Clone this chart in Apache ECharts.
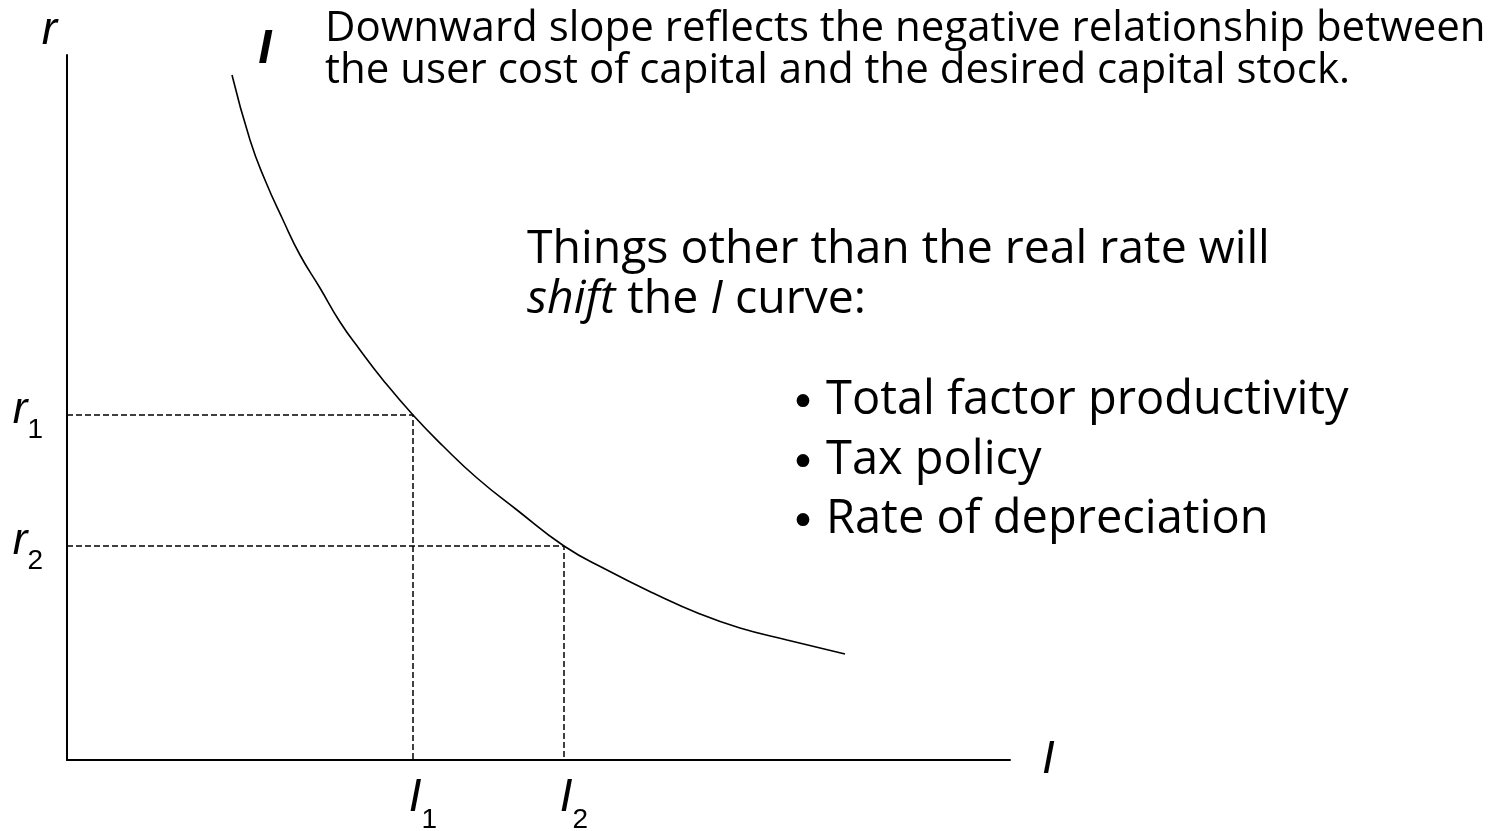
<!DOCTYPE html>
<html>
<head>
<meta charset="utf-8">
<script src="https://cdn.jsdelivr.net/npm/echarts@6/dist/echarts.min.js"></script>
<style>
html, body { margin: 0; padding: 0; background: #fff; }
#main { width: 1506px; height: 831px; }
</style>
</head>
<body>
<div id="main"></div>
<script>
// 投资曲线 I (units measured from the axes corner)
var curveX = [165, 183, 198, 216, 233, 253, 273, 293, 316, 346, 376, 410, 450, 497, 540, 586, 633, 673, 720, 778];
var curveY = [685, 620, 580, 540, 505, 472, 438, 410, 380, 345, 314, 282, 250, 214, 190, 167, 146, 132, 120, 106];

// r1 / r2 and I1 / I2
var levelX = [346, 497];
var levelY = [345, 214];
var levelSub = ['1', '2'];

var xMax = 943;
var yMax = 705;

// 说明文字
var noteLines = ['Downward slope reflects the negative relationship between', 'the user cost of capital and the desired capital stock.'];
var shiftLines = ['Things other than the real rate will', '{i|shift} the {i|I} curve:'];
var bulletItems = ['Total factor productivity', 'Tax policy', 'Rate of depreciation'];

var txtFont = '"Open Sans"';
var mathFont = '"Liberation Sans", Arial, sans-serif';

var myChart = echarts.init(document.getElementById('main'));

var curveData = [];
for (var i = 0; i < curveX.length; i++) {
    var item = { value: [curveX[i], curveY[i]] };
    if (i === 0) {
        item.label = {
            show: true,
            position: 'top',
            offset: [33, 4],
            formatter: 'I',
            fontFamily: mathFont,
            fontStyle: 'italic',
            fontWeight: 'bold',
            fontSize: 48,
            color: '#000'
        };
    }
    curveData.push(item);
}

var subRich = function (big, small, pad) {
    return {
        a: { fontFamily: mathFont, fontStyle: 'italic', fontSize: big, lineHeight: big + 8, color: '#000' },
        b: { fontFamily: mathFont, fontSize: small, padding: [pad, 0, 0, 0], color: '#000' }
    };
};

var series = [{
    name: 'I',
    type: 'line',
    data: curveData,
    smooth: 0.5,
    showSymbol: true,
    symbolSize: 0,
    lineStyle: { color: '#000', width: 1.6 },
    z: 3
}];

for (var k = 0; k < levelX.length; k++) {
    series.push({
        type: 'line',
        showSymbol: true,
        symbolSize: 0,
        lineStyle: { color: '#000', width: 1.5, type: [6, 3] },
        data: [
            {
                value: [0, levelY[k]],
                label: {
                    show: true,
                    position: 'left',
                    distance: 24,
                    offset: [0, -4],
                    formatter: '{a|r}{b|' + levelSub[k] + '}',
                    rich: subRich(44, 28, 38)
                }
            },
            { value: [levelX[k], levelY[k]] },
            {
                value: [levelX[k], 0],
                label: {
                    show: true,
                    position: 'bottom',
                    distance: 2,
                    offset: [10, 0],
                    formatter: '{a|I}{b|' + levelSub[k] + '}',
                    rich: subRich(46, 28, 44)
                }
            }
        ],
        z: 2
    });
}

var graphics = [];
for (var n = 0; n < noteLines.length; n++) {
    graphics.push({
        type: 'text', x: 325, y: 29 + n * 42,
        style: { text: noteLines[n], fontFamily: txtFont, fontSize: 42, fill: '#000', verticalAlign: 'middle' }
    });
}
for (var s = 0; s < shiftLines.length; s++) {
    graphics.push({
        type: 'text', x: 527, y: 250 + s * 50,
        style: {
            text: shiftLines[s], fontFamily: txtFont, fontSize: 46.4, fill: '#000', verticalAlign: 'middle',
            rich: { i: { fontFamily: txtFont, fontSize: 46.4, fontStyle: 'italic', fill: '#000' } }
        }
    });
}
for (var b = 0; b < bulletItems.length; b++) {
    graphics.push({
        type: 'text', x: 790, y: 406 + b * 59.5,
        style: { text: '\u2022', fontFamily: '"DejaVu Sans"', fontSize: 44, fill: '#000', verticalAlign: 'middle' }
    });
    graphics.push({
        type: 'text', x: 826, y: 401 + b * 59.5,
        style: { text: bulletItems[b], fontFamily: txtFont, fontSize: 47, fill: '#000', verticalAlign: 'middle' }
    });
}

var option = {
    animation: false,
    backgroundColor: '#fff',
    grid: { left: 67, top: 55, right: 496, bottom: 71 },
    xAxis: {
        type: 'value',
        min: 0,
        max: xMax,
        name: 'I',
        nameLocation: 'end',
        nameGap: 32,
        nameTextStyle: { fontFamily: mathFont, fontStyle: 'italic', fontSize: 46, color: '#000' },
        axisLine: { show: true, lineStyle: { color: '#000', width: 2 } },
        axisTick: { show: false },
        axisLabel: { show: false },
        splitLine: { show: false }
    },
    yAxis: {
        type: 'value',
        min: 0,
        max: yMax,
        name: 'r',
        nameLocation: 'end',
        nameGap: 1,
        nameTextStyle: { fontFamily: mathFont, fontStyle: 'italic', fontSize: 46, color: '#000', align: 'right', padding: [0, 10, 0, 0] },
        axisLine: { show: true, lineStyle: { color: '#000', width: 2 } },
        axisTick: { show: false },
        axisLabel: { show: false },
        splitLine: { show: false }
    },
    series: series,
    graphic: graphics
};

myChart.setOption(option);

window.addEventListener('resize', function () {
    myChart.resize();
});
</script>
</body>
</html>
